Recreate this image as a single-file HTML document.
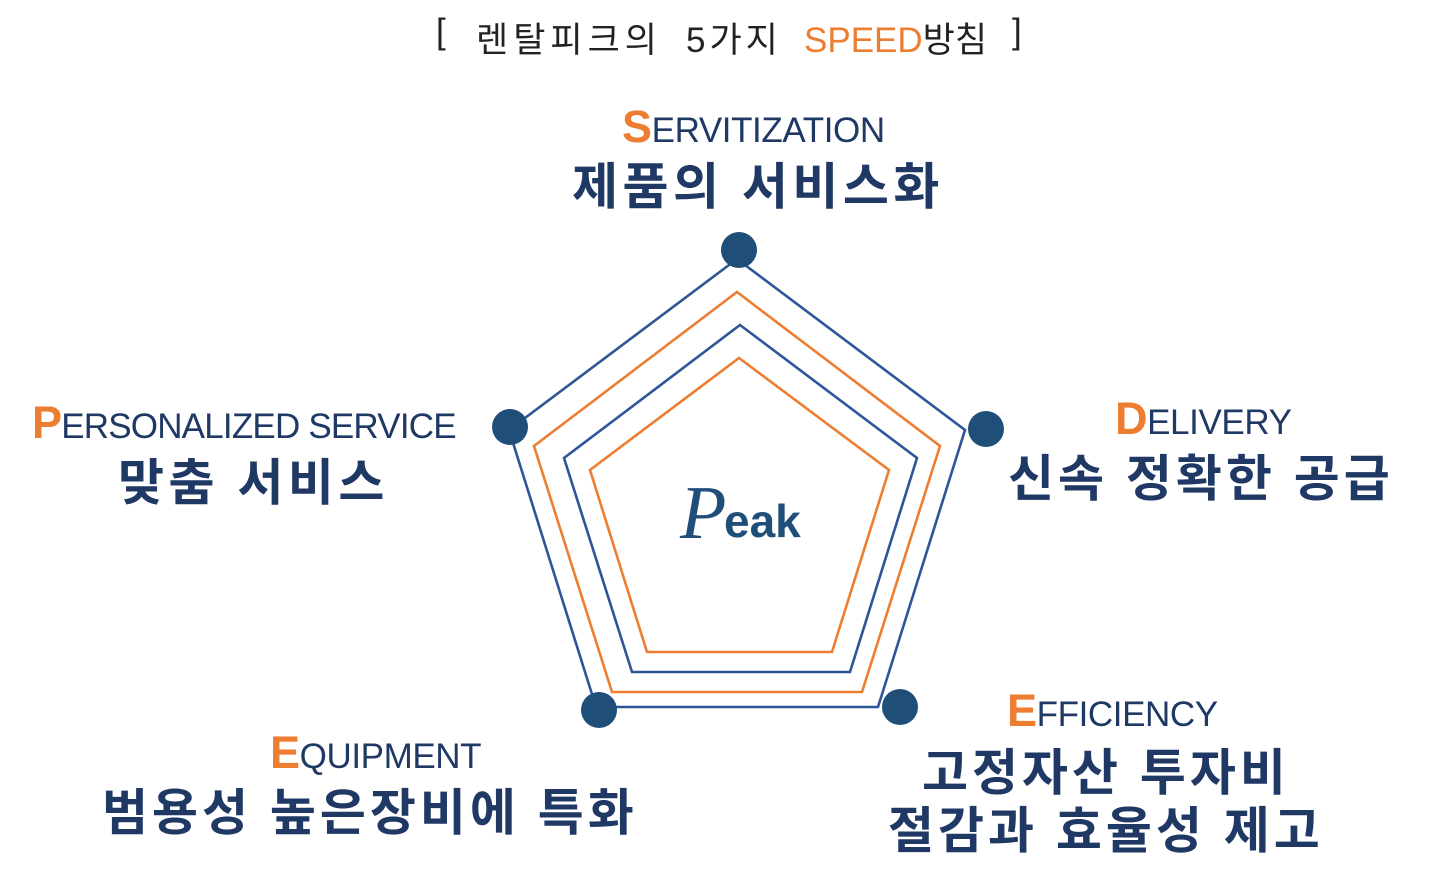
<!DOCTYPE html>
<html><head><meta charset="utf-8"><style>
html,body{margin:0;padding:0;background:#fff;width:1436px;height:890px;overflow:hidden;position:relative;font-family:"Liberation Sans","Noto Sans CJK KR",sans-serif}
.t{position:absolute;white-space:nowrap;color:#1f3864}
.en{font-size:35px;letter-spacing:-0.4px}
.en b{color:#ed7d31;font-size:45px;font-weight:bold}
.ko{font-weight:bold;font-size:50px;letter-spacing:4.5px}
.h{position:absolute;top:12px;font-size:35px;color:#222;white-space:nowrap}
</style></head><body>
<div class="h" style="left:436px">[</div>
<div class="h" style="left:476px;letter-spacing:5px">렌탈피크의</div>
<div class="h" style="left:686px;letter-spacing:4px">5가지</div>
<div class="h" style="left:804px"><span style="color:#ed7d31">SPEED</span>방침</div>
<div class="h" style="left:1012px">]</div>

<div class="t en" style="left:622px;top:101px;"><b>S</b>ERVITIZATION</div>
<div class="t ko" style="left:572px;top:147px;">제품의 서비스화</div>

<div class="t en" style="left:32px;top:397px;letter-spacing:-0.8px"><b>P</b>ERSONALIZED SERVICE</div>
<div class="t ko" style="left:118px;top:443px;">맞춤 서비스</div>

<div class="t en" style="left:1115px;top:393px;"><b>D</b>ELIVERY</div>
<div class="t ko" style="left:1008px;top:439px;letter-spacing:4px">신속 정확한 공급</div>

<div class="t en" style="left:1007px;top:685px;"><b>E</b>FFICIENCY</div>
<div class="t ko" style="left:922px;top:733px;letter-spacing:4px">고정자산 투자비</div>
<div class="t ko" style="left:888px;top:791px;letter-spacing:4px">절감과 효율성 제고</div>

<div class="t en" style="left:270px;top:727px;"><b>E</b>QUIPMENT</div>
<div class="t ko" style="left:102px;top:773px;letter-spacing:4px">범용성 높은장비에 특화</div>

<svg width="1436" height="890" style="position:absolute;left:0;top:0">
<g fill="none" stroke-width="2.6">
<polygon points="737,259 965,430 878,707 596,707 509,430" stroke="#2e5597"/>
<polygon points="737,292 940,446 862,692 612,692 534,446" stroke="#ed7d31"/>
<polygon points="740,325 917,458 850,672 632,672 564,458" stroke="#2e5597"/>
<polygon points="739,358 889,470 832,652 647,652 590,470" stroke="#ed7d31"/>
</g>
<g fill="#1f4e79">
<circle cx="739" cy="250" r="18"/><circle cx="510" cy="427" r="18"/>
<circle cx="986" cy="429" r="18"/><circle cx="599" cy="710" r="18"/>
<circle cx="900" cy="707" r="18"/>
</g>
<text x="680" y="538" font-family="Liberation Serif,serif" font-style="italic" font-size="76" fill="#1f4e79">P</text>
<text x="724" y="537" font-family="Liberation Sans,sans-serif" font-weight="bold" font-size="46" fill="#1f4e79">eak</text>
</svg>
</body></html>
